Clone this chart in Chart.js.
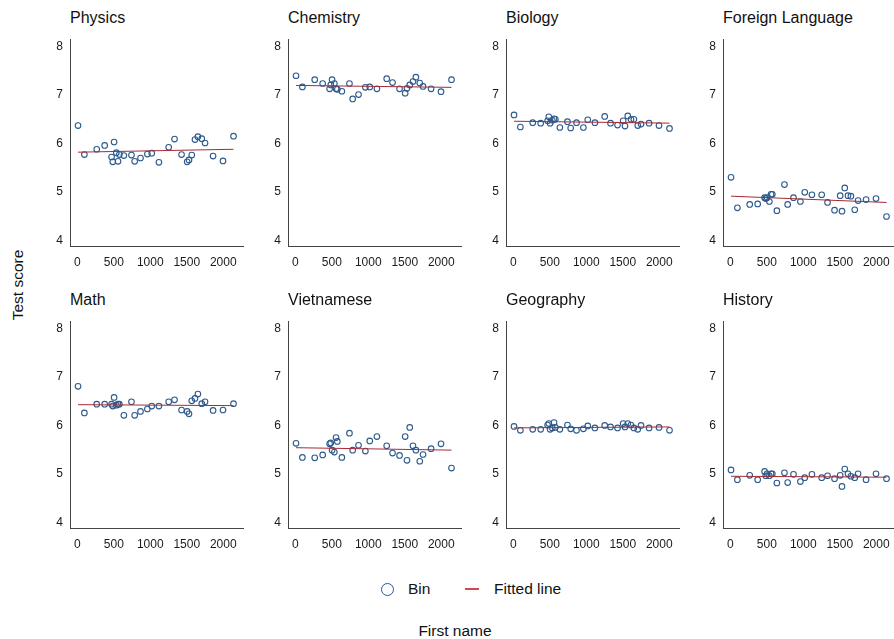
<!DOCTYPE html>
<html>
<head>
<meta charset="utf-8">
<script src="https://cdn.jsdelivr.net/npm/chart.js@4.4.0/dist/chart.umd.min.js"></script>
<style>
  body { margin: 0; background: #fff; font-family: "Liberation Sans", Arial, sans-serif; color: #111; }
  #wrap { position: relative; width: 894px; height: 639px; overflow: hidden; }
  .panel { position: absolute; }
  .ptitle { position: absolute; font-size: 16px; line-height: 18px; white-space: nowrap; }
  .txt { position: absolute; white-space: nowrap; }
</style>
</head>
<body>
<div id="wrap">
  <div class="txt" style="left:18px;top:285px;font-size:15.5px;transform:translate(-50%,-50%) rotate(-90deg);">Test score</div>
  <div class="txt" style="left:455px;top:631px;font-size:15.5px;transform:translate(-50%,-50%);">First name</div>
  <div style="position:absolute;left:381px;top:583px;width:11px;height:11px;border:1.2px solid #2c5a8c;border-radius:50%;"></div>
  <div class="txt" style="left:408px;top:580px;font-size:15.5px;line-height:18px;">Bin</div>
  <div style="position:absolute;left:465px;top:588px;width:14px;height:2px;background:#d04a55;"></div>
  <div class="txt" style="left:494px;top:580px;font-size:15.5px;line-height:18px;">Fitted line</div>
</div>
<script>
// ===== DATA =====
const subjects = ["Physics", "Chemistry", "Biology", "Foreign Language", "Math", "Vietnamese", "Geography", "History"];

// bin centres (first name frequency), shared by all panels
const binX = [10, 97, 266, 375, 470, 486, 504, 535, 558, 576, 638, 742, 786, 866, 960,
  1020, 1118, 1252, 1332, 1428, 1505, 1530, 1568, 1612, 1652, 1705, 1750, 1860, 1996, 2140];

const physics = [6.37, 5.77, 5.88, 5.96, 5.72, 5.62, 6.03, 5.81, 5.63, 5.77, 5.75, 5.76, 5.63, 5.70, 5.78,
  5.80, 5.61, 5.92, 6.09, 5.77, 5.62, 5.66, 5.76, 6.08, 6.14, 6.10, 6.01, 5.74, 5.64, 6.15];
const chemistry = [7.40, 7.17, 7.32, 7.24, 7.13, 7.21, 7.32, 7.24, 7.13, 7.12, 7.08, 7.24, 6.92, 7.01, 7.16,
  7.17, 7.13, 7.34, 7.26, 7.13, 7.04, 7.14, 7.21, 7.28, 7.37, 7.25, 7.18, 7.13, 7.07, 7.32];
const biology = [6.59, 6.34, 6.43, 6.42, 6.47, 6.55, 6.42, 6.48, 6.51, 6.50, 6.33, 6.45, 6.32, 6.43, 6.33,
  6.49, 6.43, 6.56, 6.42, 6.38, 6.47, 6.36, 6.57, 6.50, 6.50, 6.37, 6.40, 6.42, 6.37, 6.31];
const foreignLang = [5.30, 4.67, 4.74, 4.75, 4.88, 4.86, 4.88, 4.80, 4.95, 4.95, 4.61, 5.15, 4.74, 4.88, 4.80,
  4.99, 4.94, 4.94, 4.78, 4.62, 4.92, 4.60, 5.08, 4.92, 4.91, 4.63, 4.82, 4.84, 4.86, 4.49];
const math = [6.81, 6.26, 6.44, 6.44, 6.44, 6.40, 6.58, 6.42, 6.44, 6.44, 6.21, 6.49, 6.21, 6.29, 6.34,
  6.40, 6.40, 6.49, 6.53, 6.32, 6.29, 6.24, 6.51, 6.56, 6.65, 6.45, 6.49, 6.31, 6.32, 6.45];
const vietnamese = [5.63, 5.34, 5.33, 5.39, 5.62, 5.64, 5.49, 5.45, 5.75, 5.67, 5.34, 5.84, 5.49, 5.59, 5.47,
  5.68, 5.77, 5.58, 5.43, 5.38, 5.77, 5.28, 5.96, 5.58, 5.49, 5.26, 5.40, 5.52, 5.62, 5.12];
const geography = [5.98, 5.90, 5.92, 5.92, 6.01, 6.04, 5.92, 5.95, 6.06, 5.96, 5.92, 6.01, 5.93, 5.90, 5.93,
  5.99, 5.95, 6.00, 5.97, 5.95, 6.04, 5.97, 6.04, 6.01, 5.95, 5.92, 6.00, 5.95, 5.96, 5.90];
const history = [5.08, 4.88, 4.97, 4.88, 5.05, 4.96, 5.00, 4.96, 5.00, 5.00, 4.81, 5.02, 4.82, 4.99, 4.84,
  4.92, 4.99, 4.92, 4.96, 4.90, 4.97, 4.74, 5.10, 5.00, 4.95, 4.92, 5.00, 4.88, 5.00, 4.90];

// fitted line values at first and last bin
const fitStart = [5.82, 7.20, 6.46, 4.91, 6.43, 5.54, 5.95, 4.95];
const fitEnd   = [5.88, 7.16, 6.42, 4.78, 6.41, 5.49, 5.97, 4.93];

const xTicks = [0, 500, 1000, 1500, 2000];
const yTicks = [4, 5, 6, 7, 8];

const series = [physics, chemistry, biology, foreignLang, math, vietnamese, geography, history];

// ===== LAYOUT =====
const colX = [70, 288, 506, 723];
const rowTop = [39, 321];
const plotW = 173, plotH = 207;
const padL = 40, padT = 8, padR = 8, padB = 30;

const wrap = document.getElementById("wrap");
const tickFont = { family: "Liberation Sans, Arial, sans-serif", size: 12 };

subjects.forEach((name, i) => {
  const ax = colX[i % 4];
  const at = rowTop[Math.floor(i / 4)];

  const title = document.createElement("div");
  title.className = "ptitle";
  title.style.left = ax + "px";
  title.style.top = (at - 30) + "px";
  title.textContent = name;
  wrap.appendChild(title);

  const box = document.createElement("div");
  box.className = "panel";
  box.style.left = (ax - padL) + "px";
  box.style.top = (at - padT) + "px";
  box.style.width = (padL + plotW + padR) + "px";
  box.style.height = (padT + plotH + padB) + "px";
  const cv = document.createElement("canvas");
  box.appendChild(cv);
  wrap.appendChild(box);

  const vals = series[i];
  new Chart(cv, {
    type: "scatter",
    data: {
      datasets: [
        {
          label: "Bin",
          data: binX.map((x, k) => ({ x: x, y: vals[k] })),
          pointStyle: "circle",
          pointRadius: 2.8,
          pointBorderWidth: 1.1,
          pointBorderColor: "#2c5a8c",
          pointBackgroundColor: "rgba(0,0,0,0)",
          showLine: false,
          order: 2
        },
        {
          label: "Fitted line",
          type: "line",
          data: [{ x: binX[0], y: fitStart[i] }, { x: binX[binX.length - 1], y: fitEnd[i] }],
          borderColor: "#a52a35",
          borderWidth: 1,
          pointRadius: 0,
          fill: false,
          order: 1
        }
      ]
    },
    options: {
      responsive: true,
      maintainAspectRatio: false,
      animation: false,
      layout: { padding: { left: 0, top: padT, right: padR, bottom: 0 } },
      plugins: { legend: { display: false }, tooltip: { enabled: false } },
      scales: {
        x: {
          type: "linear",
          min: -100,
          max: 2270,
          grid: { display: false, drawTicks: false },
          border: { display: true, color: "#444", width: 1 },
          ticks: { font: tickFont, color: "#1a1a1a", padding: 9, maxRotation: 0, callback: v => String(v) },
          afterBuildTicks: s => { s.ticks = xTicks.map(v => ({ value: v })); },
          afterFit: s => { s.height = padB; s.paddingLeft = 0; s.paddingRight = 0; }
        },
        y: {
          min: 3.88,
          max: 8.16,
          grid: { display: false, drawTicks: false },
          border: { display: true, color: "#444", width: 1 },
          ticks: { font: tickFont, color: "#1a1a1a", padding: 7, callback: v => String(v) },
          afterBuildTicks: s => { s.ticks = yTicks.map(v => ({ value: v })); },
          afterFit: s => { s.width = padL; s.paddingTop = 0; s.paddingBottom = 0; }
        }
      }
    }
  });
});
</script>
</body>
</html>
